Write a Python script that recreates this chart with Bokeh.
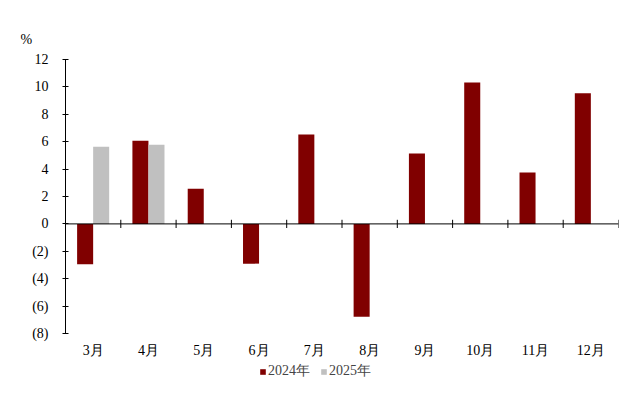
from bokeh.plotting import figure
from bokeh.models import (Range1d, LinearAxis, FixedTicker, Legend, LegendItem, Title, ColumnDataSource, Span)
from bokeh.core.properties import value
from bokeh.embed import file_html
from bokeh.resources import INLINE
import numpy as np

months = ["3月", "4月", "5月", "6月", "7月", "8月", "9月", "10月", "11月", "12月"]
v2024 = [-2.95, 6.07, 2.56, -2.9, 6.53, -6.78, 5.14, 10.33, 3.75, 9.53]
v2025 = [5.63, 5.78]
series_names = ["2024年", "2025年"]
y_ticks = [-8, -6, -4, -2, 0, 2, 4, 6, 8, 10, 12]
y_tick_labels = ["(8)", "(6)", "(4)", "(2)", "0", "2", "4", "6", "8", "10", "12"]

RED = "#800000"
GRAY = "#C0C0C0"
FONT = "Liberation Serif"
FS = "14px"

n = len(months)
bw = 0.29
idx = np.arange(n)
px_per_unit = 274 / 20.0
y_bottom = -8 - 57 / px_per_unit      # room below the axis for labels and legend
y_label = -8 - 17 / px_per_unit       # month labels row

p = figure(frame_width=553, frame_height=331, output_backend="svg", toolbar_location=None,
           x_range=Range1d(0, n), y_range=Range1d(y_bottom, 12),
           min_border_left=65, min_border_top=59, min_border_right=4, min_border_bottom=0)
p.grid.visible = False
p.outline_line_color = None
p.xaxis.visible = False
p.yaxis.visible = False

src24 = ColumnDataSource(dict(x=idx + 0.5 - bw / 2, top=v2024))
src25 = ColumnDataSource(dict(x=np.arange(len(v2025)) + 0.5 + bw / 2, top=v2025))
r1 = p.vbar(x="x", top="top", bottom=0, width=bw, source=src24, fill_color=RED, line_color=None)
r2 = p.vbar(x="x", top="top", bottom=0, width=bw, source=src25, fill_color=GRAY, line_color=None)

# y axis
yax = LinearAxis(ticker=FixedTicker(ticks=y_ticks), bounds=(-8, 12),
                 major_label_overrides={t: l for t, l in zip(y_ticks, y_tick_labels)})
yax.major_tick_in = 3
yax.major_tick_out = 3
yax.minor_tick_line_color = None
yax.axis_line_color = "black"
yax.major_tick_line_color = "black"
yax.major_label_text_font = FONT
yax.major_label_text_font_size = FS
yax.major_label_text_color = "black"
yax.major_label_standoff = 14
p.add_layout(yax, "left")

# month labels
p.text(x=idx + 0.5, y=[y_label] * n, text=months, text_align="center", text_baseline="middle",
       text_font=value(FONT), text_font_size=value(FS), text_color="black")

# zero line with boundary ticks
p.add_layout(Span(location=0, dimension="width", line_color="black", line_width=1))
bounds = idx + 1
p.segment(x0=bounds, x1=bounds, y0=[-0.3] * n, y1=[0.3] * n, line_color="black", line_width=1)

p.add_layout(Title(text="%", align="left", offset=-45, standoff=26, text_font=FONT,
                   text_font_size=FS, text_font_style="normal", text_color="black"), "above")

legend = Legend(items=[LegendItem(label=series_names[0], renderers=[r1]),
                       LegendItem(label=series_names[1], renderers=[r2])],
                orientation="horizontal", location=(194, 10),
                glyph_width=7, glyph_height=7, label_text_font=FONT,
                label_text_font_size=FS, label_standoff=2, spacing=10,
                padding=0, margin=0, border_line_color=None, background_fill_alpha=0)
p.add_layout(legend)

open("out.html", "w").write(file_html(p, INLINE))
